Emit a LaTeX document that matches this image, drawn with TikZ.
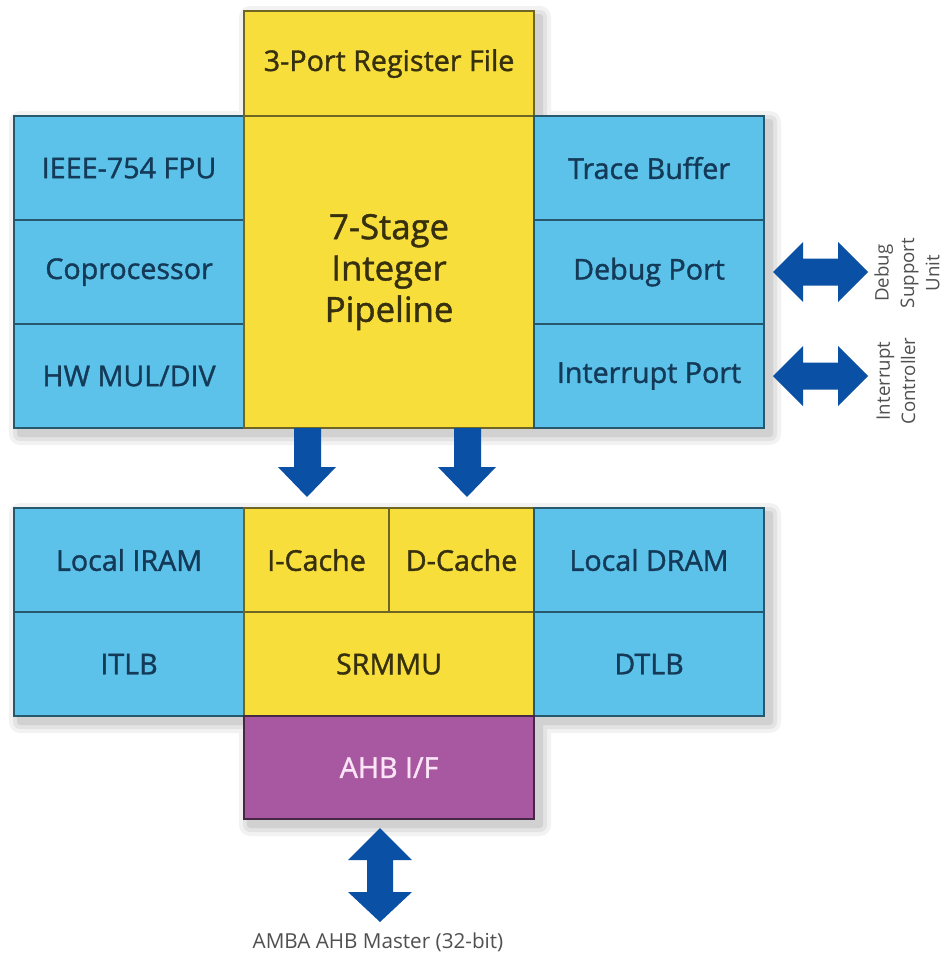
\documentclass[tikz,border=0pt]{standalone}
\usepackage{fontspec}
\setmainfont{Open Sans}
\newfontfamily\boxfont{Open Sans}[FakeBold=1.3]
\definecolor{bluefill}{RGB}{92,194,234}
\definecolor{blueedge}{RGB}{40,88,110}
\definecolor{bluetext}{RGB}{20,58,88}
\definecolor{yellowfill}{RGB}{248,222,58}
\definecolor{yellowedge}{RGB}{112,102,36}
\definecolor{yellowtext}{RGB}{55,48,15}
\definecolor{purplefill}{RGB}{168,88,160}
\definecolor{purpleedge}{RGB}{70,40,70}
\definecolor{purpletext}{RGB}{250,228,246}
\definecolor{arrowblue}{RGB}{10,80,165}
\definecolor{labelgray}{RGB}{80,80,80}
\tikzset{
  cell/.style n args={2}{minimum width=#1*0.75pt, minimum height=#2*0.75pt, anchor=north west, inner sep=0pt, line width=1.6pt, align=center},
  bluebox/.style={draw=blueedge, fill=bluefill, text=bluetext, font=\boxfont\fontsize{21.5}{25}\selectfont},
  yellowbox/.style={draw=yellowedge, fill=yellowfill, text=yellowtext, font=\boxfont\fontsize{21.5}{25}\selectfont},
  purplebox/.style={draw=purpleedge, fill=purplefill, text=purpletext, font=\boxfont\fontsize{21.5}{25}\selectfont},
  blockarrow/.style={fill=arrowblue},
  sidelabel/.style={text=labelgray, font=\fontsize{14}{19}\selectfont, align=center, rotate=90, inner sep=0pt}
}
\begin{document}
\begin{tikzpicture}[x=0.75pt,y=-0.75pt]
\useasboundingbox (0,0) rectangle (945,954);
\fill[white] (0,0) rectangle (945,954);
% shadows
\begin{scope}[shift={(7,7)}]
\foreach \w/\o in {22/0.05, 14/0.06, 6/0.08}{
  \begin{scope}[transparency group, opacity=\o]
  \path[fill=black, draw=black, line width=\w*0.75pt, line join=round]
    (243,10) -- (533,10) -- (533,115) -- (763,115) -- (763,427) -- (13,427) -- (13,115) -- (243,115) -- cycle
    (13,507) -- (763,507) -- (763,715) -- (533,715) -- (533,818) -- (243,818) -- (243,715) -- (13,715) -- cycle;
  \end{scope}
}
\end{scope}
% upper block
\node[yellowbox, cell={290}{105}] (reg) at (243,10) {3-Port Register File};
\node[bluebox, cell={230}{104}] (fpu) at (13,115) {IEEE-754 FPU};
\node[bluebox, cell={230}{104}] (cop) at (13,219) {Coprocessor};
\node[bluebox, cell={230}{104}] (mul) at (13,323) {HW MUL/DIV};
\node[yellowbox, cell={290}{312}, font=\boxfont\fontsize{26}{31}\selectfont] (pipe) at (243,115) {7-Stage\\Integer\\Pipeline};
\node[bluebox, cell={230}{104}] (trace) at (533,115) {Trace Buffer};
\node[bluebox, cell={230}{104}] (debug) at (533,219) {Debug Port};
\node[bluebox, cell={230}{104}] (irq) at (533,323) {Interrupt Port};
% lower block
\node[bluebox, cell={230}{104}] (iram) at (13,507) {Local IRAM};
\node[bluebox, cell={230}{104}] (itlb) at (13,611) {ITLB};
\node[yellowbox, cell={145}{104}] (icache) at (243,507) {I-Cache};
\node[yellowbox, cell={145}{104}] (dcache) at (388,507) {D-Cache};
\node[yellowbox, cell={290}{104}] (srmmu) at (243,611) {SRMMU};
\node[bluebox, cell={230}{104}] (dram) at (533,507) {Local DRAM};
\node[bluebox, cell={230}{104}] (dtlb) at (533,611) {DTLB};
\node[purplebox, cell={290}{103}] (ahb) at (243,715) {AHB I/F};
% down arrows
\fill[blockarrow] (294,428) -- (321,428) -- (321,467) -- (336,467) -- (307,497) -- (278,467) -- (294,467) -- cycle;
\fill[blockarrow] (454,428) -- (481,428) -- (481,467) -- (496,467) -- (467,497) -- (438,467) -- (454,467) -- cycle;
% side double arrows
\foreach \cy in {272,376}{
  \fill[blockarrow] (773,\cy) -- (803,\cy-30) -- (803,\cy-13.5) -- (838,\cy-13.5) -- (838,\cy-30) -- (868,\cy)
    -- (838,\cy+30) -- (838,\cy+13.5) -- (803,\cy+13.5) -- (803,\cy+30) -- cycle;
}
% bottom double arrow
\fill[blockarrow] (380,828) -- (412,860) -- (393,860) -- (393,892) -- (412,892) -- (380,922)
  -- (348,892) -- (367,892) -- (367,860) -- (348,860) -- cycle;
% labels
\node[sidelabel] (dsu) at (907,273) {Debug\\Support\\Unit};
\node[sidelabel] (ic) at (896,381) {Interrupt\\Controller};
\node[text=labelgray, font=\fontsize{15.5}{18}\selectfont, inner sep=0pt] (amba) at (378,942) {AMBA AHB Master (32-bit)};
\end{tikzpicture}
\end{document}
